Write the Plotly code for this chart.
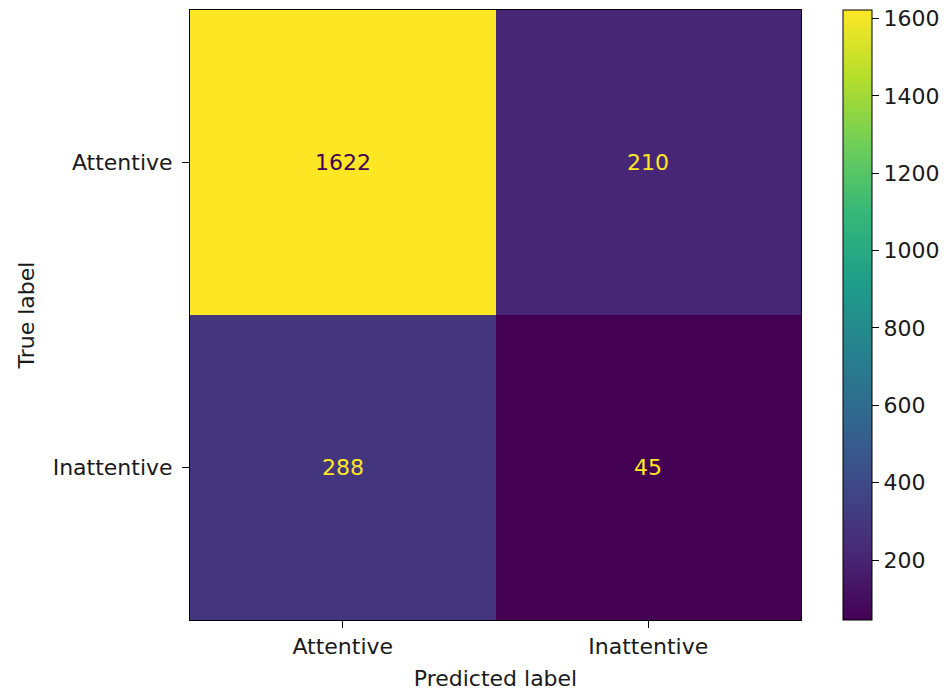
import plotly.graph_objects as go

labels = ["Attentive", "Inattentive"]
counts = [[1622, 210],
          [288, 45]]
cbar_ticks = [200, 400, 600, 800, 1000, 1200, 1400, 1600]

FS = 22
font = dict(family="DejaVu Sans", size=FS, color="#1a1a1a")

fig = go.Figure()
fig.add_trace(go.Heatmap(
    z=counts, x=labels, y=labels,
    colorscale="Viridis", zmin=45, zmax=1622,
    showscale=True,
    colorbar=dict(
        x=1.0687, xanchor="left", xref="paper", xpad=0, ypad=0,
        y=0.5, yanchor="middle", len=1, lenmode="fraction",
        thickness=29, thicknessmode="pixels",
        outlinecolor="black", outlinewidth=1,
        tickvals=cbar_ticks, ticks="outside", ticklen=7, tickcolor="black",
        tickfont=font, tickprefix=" ",
    ),
))

zmin, zmax = 45, 1622
mid = (zmin + zmax) / 2
for i, row in enumerate(counts):
    for j, v in enumerate(row):
        fig.add_annotation(
            x=labels[j], y=labels[i], text=str(v), showarrow=False,
            font=dict(family="DejaVu Sans", size=FS,
                      color="#440154" if v > mid else "#fde725"),
        )

fig.update_layout(
    width=951, height=691,
    margin=dict(l=190, r=150, t=10, b=71),
    plot_bgcolor="white", paper_bgcolor="white",
    font=font,
)
fig.update_xaxes(
    title=dict(text="Predicted label", font=font, standoff=14),
    automargin=False,
    showline=True, linecolor="black", linewidth=1, mirror=True,
    ticks="outside", ticklen=7, tickcolor="black", tickfont=font,
    showgrid=False, zeroline=False,
)
fig.update_yaxes(
    title=dict(text="True label", font=font, standoff=11),
    automargin=False,
    autorange="reversed",
    showline=True, linecolor="black", linewidth=1, mirror=True,
    ticks="outside", ticklen=7, tickcolor="black", tickfont=font,
    ticklabelstandoff=5,
    showgrid=False, zeroline=False,
)

fig.write_html("out.html")
